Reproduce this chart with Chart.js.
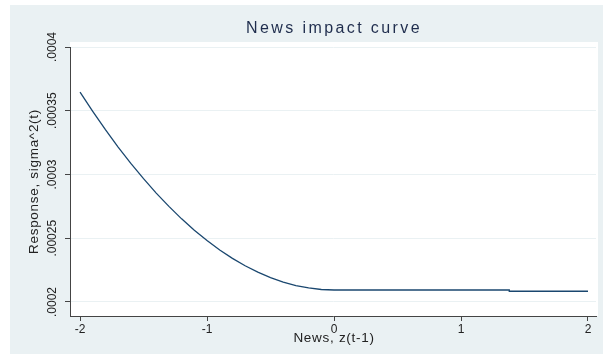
<!DOCTYPE html>
<html>
<head>
<meta charset="utf-8">
<script src="https://cdn.jsdelivr.net/npm/chart.js@4/dist/chart.umd.min.js"></script>
<style>
  html, body { margin: 0; padding: 0; background: #ffffff; }
  #wrap { position: relative; width: 603px; height: 355px; }
</style>
</head>
<body>
<div id="wrap"><canvas id="c" width="603" height="355"></canvas></div>
<script>
// News value z(t-1) and the conditional variance response sigma^2(t)
const newsZ = [-2.0, -1.9, -1.8, -1.7, -1.6, -1.5, -1.4, -1.3, -1.2, -1.1, -1.0,
               -0.9, -0.8, -0.7, -0.6, -0.5, -0.4, -0.3, -0.2, -0.1, 0.0,
               1.38, 1.38, 2.0];
const response = [0.0003646, 0.0003495, 0.0003351, 0.0003215, 0.0003087, 0.0002967,
                  0.0002854, 0.0002750, 0.0002652, 0.0002563, 0.0002482,
                  0.0002408, 0.0002342, 0.0002284, 0.0002234, 0.0002191,
                  0.0002156, 0.0002129, 0.0002110, 0.0002098, 0.0002094,
                  0.0002094, 0.0002084, 0.0002084];

const xTicks = [-2, -1, 0, 1, 2];
const yTicks = [0.0002, 0.00025, 0.0003, 0.00035, 0.0004];
const yTickLabels = ['.0002', '.00025', '.0003', '.00035', '.0004'];

const titleText = 'News impact curve';
const xTitle = 'News, z(t-1)';
const yTitle = 'Response, sigma^2(t)';

const FONT = '"Liberation Sans", Arial, Helvetica, sans-serif';
const OUTER_BG = '#eaf1f3';
const INK = '#222222';

const points = newsZ.map((z, i) => ({ x: z, y: response[i] }));

// Panel backgrounds: light outer frame and white plot region
const backdrop = {
  id: 'backdrop',
  beforeDraw(chart) {
    const { ctx, chartArea: a } = chart;
    ctx.save();
    ctx.fillStyle = '#ffffff';
    ctx.fillRect(0, 0, chart.width, chart.height);
    ctx.fillStyle = OUTER_BG;
    ctx.fillRect(10, 5, chart.width - 10, chart.height - 6);
    ctx.fillStyle = '#ffffff';
    ctx.fillRect(a.left, a.top - 5, 598 - a.left, a.bottom - a.top + 5);
    ctx.restore();
  }
};

function spaced(ctx, px) {
  if ('letterSpacing' in ctx) ctx.letterSpacing = px + 'px';
}

// Title, axis titles and the vertical y tick labels
const texts = {
  id: 'texts',
  afterDraw(chart) {
    const { ctx, chartArea: a } = chart;
    const y = chart.scales.y;
    ctx.save();
    ctx.textBaseline = 'middle';
    ctx.textAlign = 'center';

    ctx.fillStyle = '#1f2d4d';
    ctx.font = '16px ' + FONT;
    spaced(ctx, 2.4);
    ctx.fillText(titleText, 334, 29);

    ctx.fillStyle = INK;
    ctx.font = '13.5px ' + FONT;
    spaced(ctx, 0.7);
    ctx.fillText(xTitle, 334, 338);

    ctx.save();
    ctx.translate(34, (a.top + a.bottom) / 2);
    ctx.rotate(-Math.PI / 2);
    ctx.fillText(yTitle, 0, 0);
    ctx.restore();

    ctx.font = '12px ' + FONT;
    spaced(ctx, 0);
    yTicks.forEach((v, i) => {
      const py = y.getPixelForValue(v);
      ctx.save();
      ctx.translate(53, py);
      ctx.rotate(-Math.PI / 2);
      ctx.fillText(yTickLabels[i], 0, 0);
      ctx.restore();
    });
    ctx.restore();
  }
};

new Chart(document.getElementById('c'), {
  type: 'line',
  data: {
    datasets: [{
      data: points,
      borderColor: '#1a476f',
      borderWidth: 1.3,
      pointRadius: 0,
      tension: 0,
      fill: false
    }]
  },
  options: {
    responsive: false,
    animation: false,
    devicePixelRatio: 1,
    layout: { padding: { top: 47, right: 7, left: 0, bottom: 0 } },
    plugins: {
      legend: { display: false },
      title: { display: false },
      tooltip: { enabled: false }
    },
    scales: {
      x: {
        type: 'linear',
        min: -2.079,
        max: 2.063,
        afterBuildTicks(s) { s.ticks = xTicks.map(v => ({ value: v })); },
        afterFit(s) { s.height = 39; },
        ticks: {
          color: INK,
          font: { family: FONT, size: 12 },
          padding: 1,
          maxRotation: 0,
          minRotation: 0
        },
        grid: {
          drawOnChartArea: false,
          tickLength: 5,
          tickColor: '#444444',
          lineWidth: 1
        },
        border: { color: '#444444', width: 1 }
      },
      y: {
        type: 'linear',
        min: 0.000189,
        max: 0.0004,
        afterBuildTicks(s) { s.ticks = yTicks.map(v => ({ value: v })); },
        afterFit(s) { s.width = 70; },
        ticks: { display: false },
        grid: {
          color: '#eaf1f3',
          lineWidth: 1,
          tickLength: 5,
          tickColor: '#444444'
        },
        border: { color: '#444444', width: 1 }
      }
    }
  },
  plugins: [backdrop, texts]
});
</script>
</body>
</html>
